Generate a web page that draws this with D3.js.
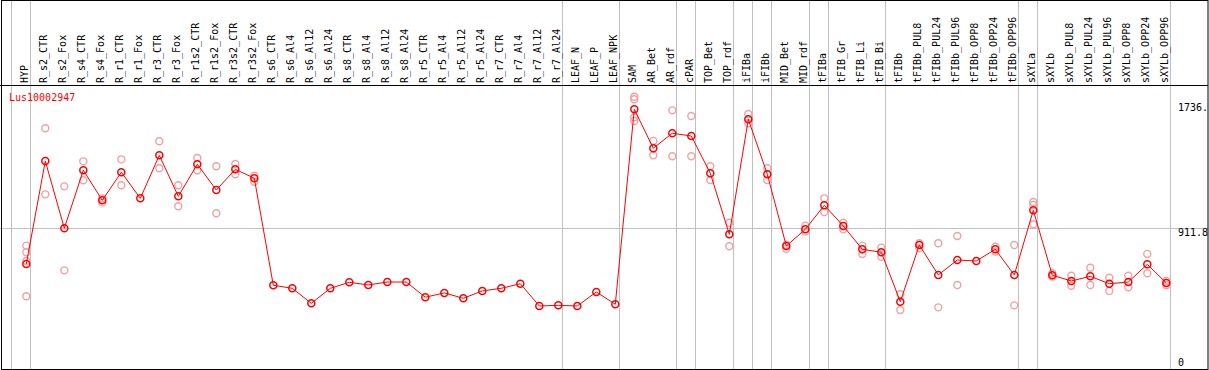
<!DOCTYPE html>
<html>
<head>
<meta charset="utf-8">
<script src="https://cdn.jsdelivr.net/npm/d3@7/dist/d3.min.js"></script>
<style>
  html, body { margin: 0; padding: 0; background: #fff; }
  svg { display: block; }
  text { font-family: "DejaVu Sans Mono", monospace; font-size: 10px; }
</style>
</head>
<body>
<div id="chart"></div>
<script>
// samples along the x axis
const categories = [
  'HYP', 'R_s2_CTR', 'R_s2_Fox', 'R_s4_CTR', 'R_s4_Fox', 'R_r1_CTR', 'R_r1_Fox',
  'R_r3_CTR', 'R_r3_Fox', 'R_r1s2_CTR', 'R_r1s2_Fox', 'R_r3s2_CTR', 'R_r3s2_Fox',
  'R_s6_CTR', 'R_s6_Al4', 'R_s6_Al12', 'R_s6_Al24', 'R_s8_CTR', 'R_s8_Al4',
  'R_s8_Al12', 'R_s8_Al24', 'R_r5_CTR', 'R_r5_Al4', 'R_r5_Al12', 'R_r5_Al24',
  'R_r7_CTR', 'R_r7_Al4', 'R_r7_Al12', 'R_r7_Al24', 'LEAF_N', 'LEAF_P', 'LEAF_NPK',
  'SAM', 'AR_Bet', 'AR_rdf', 'cPAR', 'TOP_Bet', 'TOP_rdf', 'iFIBa', 'iFIBb',
  'MID_Bet', 'MID_rdf', 'tFIBa', 'tFIB_Gr', 'tFIB_Li', 'tFIB_Bi', 'tFIBb',
  'tFIBb_PUL8', 'tFIBb_PUL24', 'tFIBb_PUL96', 'tFIBb_OPP8', 'tFIBb_OPP24', 'tFIBb_OPP96',
  'sXYLa', 'sXYLb', 'sXYLb_PUL8', 'sXYLb_PUL24', 'sXYLb_PUL96', 'sXYLb_OPP8',
  'sXYLb_OPP24', 'sXYLb_OPP96'
];

// mean expression per sample
const means = [
  677, 1348, 910, 1288, 1092, 1275, 1105, 1385, 1118, 1327, 1159, 1294, 1236,
  539, 519, 421, 519, 558, 541, 560, 560, 461, 489, 454, 502, 519, 549, 404, 408,
  404, 495, 415,
  1685, 1431, 1529, 1511, 1268, 871, 1620, 1262, 795, 903, 1060, 925, 773, 754,
  432, 801, 606, 703, 697, 773, 606,
  1027, 604, 567, 597, 549, 560, 675, 554
];

// individual replicates per sample
const replicates = [
  [797, 754, 697, 467], [1561, 1131], [1183, 636], [1346, 1223], [1105, 1077],
  [1359, 1190], [], [1477, 1301], [1190, 1053], [1368, 1288], [1314, 1008],
  [1329, 1262], [1252, 1213],
  [], [], [], [], [], [], [], [], [], [], [], [], [], [], [], [], [], [], [],
  [1767, 1750, 1633, 1609], [1479, 1385], [1678, 1379], [1641, 1379], [1314, 1224],
  [946, 793], [1654, 1594], [1301, 1224], [803, 777], [927, 888], [1105, 1016],
  [946, 903], [797, 743], [784, 725], [480, 378],
  [812, 780], [812, 395], [860, 541], [], [790, 758], [801, 408],
  [1081, 1062, 936], [617, 595], [601, 536], [653, 541], [588, 502], [601, 526],
  [743, 617], [567, 539]
];

// samples followed by a group divider
const dividerAfter = [
  'HYP', 'R_r7_Al24', 'LEAF_NPK', 'AR_rdf', 'cPAR', 'TOP_rdf', 'iFIBa', 'iFIBb',
  'MID_rdf', 'tFIBa', 'tFIB_Bi', 'tFIBb_OPP96', 'sXYLa', 'sXYLb_OPP96'
];

const geneName = 'Lus10002947';
const yMax = 1823.6;
const yTicks = [1736.7, 911.8, 0];
const yTickLabels = ['1736.', '911.8', '0'];

const W = 1209, H = 370;
const headerY = 85.5;

const svg = d3.select('#chart').append('svg')
  .attr('width', W).attr('height', H);

const x = d3.scaleBand().domain(categories).range([11.5, 1170.5]).paddingInner(0).paddingOuter(0);
const y = d3.scaleLinear().domain([0, yMax]).range([368, 88]);
const px = d => x(d) + 14.8;

// gridlines
svg.append('line')
  .attr('x1', 0).attr('x2', W - 1)
  .attr('y1', Math.round(y(911.8)) + 0.5).attr('y2', Math.round(y(911.8)) + 0.5)
  .attr('stroke', '#c0c0c0');

const dividers = [x(categories[0])].concat(dividerAfter.map(c => x(c) + x.bandwidth()));
svg.append('g').selectAll('line').data(dividers)
  .join('line')
  .attr('x1', d => Math.floor(d) + 0.5).attr('x2', d => Math.floor(d) + 0.5)
  .attr('y1', 0).attr('y2', H)
  .attr('stroke', '#c0c0c0');

// frame + header separator
svg.append('rect')
  .attr('x', 1.5).attr('y', 0.5).attr('width', W - 2.5).attr('height', 369)
  .attr('fill', 'none').attr('stroke', '#000');
svg.append('line')
  .attr('x1', 0).attr('x2', W - 1).attr('y1', headerY).attr('y2', headerY)
  .attr('stroke', '#000');

// rotated sample labels
svg.append('g').selectAll('text').data(categories)
  .join('text')
  .attr('transform', d => `translate(${px(d) + 2},83) rotate(-90)`)
  .attr('fill', '#000')
  .text(d => d);

// right-hand value labels
svg.append('g').selectAll('text').data(yTicks)
  .join('text')
  .attr('x', 1178)
  .attr('y', (d, i) => d === 0 ? y(d) - 2.3 : y(d) + (i === 0 ? 9.4 : 8))
  .attr('fill', '#000')
  .text((d, i) => yTickLabels[i]);

svg.append('text')
  .attr('x', 9).attr('y', 101)
  .attr('fill', '#ff0000')
  .text(geneName);

// replicate points
const repData = [];
replicates.forEach((arr, i) => arr.forEach(v => repData.push({ c: categories[i], v })));
svg.append('g').selectAll('circle').data(repData)
  .join('circle')
  .attr('cx', d => px(d.c)).attr('cy', d => y(d.v))
  .attr('r', 3.5)
  .attr('fill', 'none').attr('stroke', '#f4a0a0').attr('stroke-width', 1.4);

// mean line + markers
const meanData = categories.map((c, i) => ({ c, v: means[i] }));
svg.append('path')
  .datum(meanData)
  .attr('d', d3.line().x(d => px(d.c)).y(d => y(d.v)))
  .attr('fill', 'none').attr('stroke', '#ff0000').attr('stroke-width', 1);

svg.append('g').selectAll('circle').data(meanData)
  .join('circle')
  .attr('cx', d => px(d.c)).attr('cy', d => y(d.v))
  .attr('r', 3.5)
  .attr('fill', 'none').attr('stroke', '#ff0000').attr('stroke-width', 1.5);
</script>
</body>
</html>
